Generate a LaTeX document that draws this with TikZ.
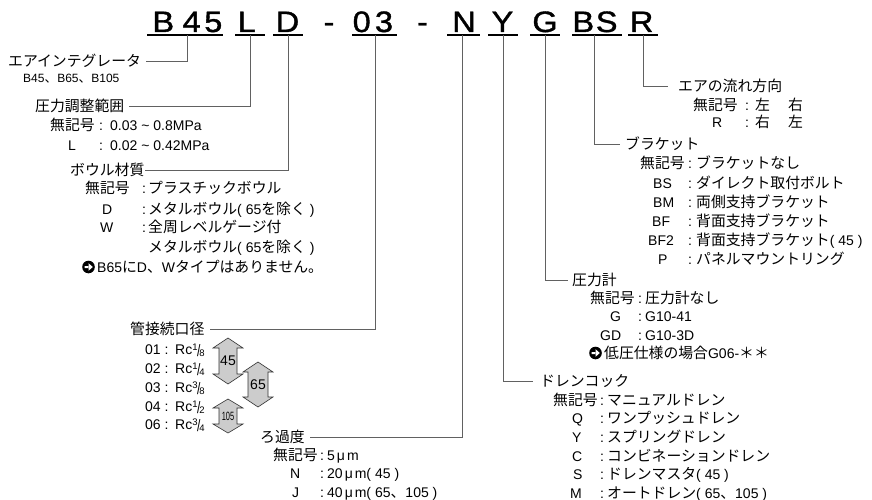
\documentclass[tikz,border=0pt]{standalone}
\usepackage{fontspec}
\setmainfont{Liberation Sans}
\newfontfamily\jpfont[Scale=1.06]{Noto Sans CJK JP}
\newfontfamily\codefont[FakeBold=1.2]{Liberation Sans}
\newcommand\jpt[1]{{\jpfont#1}}
\newcommand\rcf[2]{\raisebox{4pt}{\fontsize{9.5}{9.5}\selectfont#1}\kern-0.5pt\raisebox{-2pt}{\scalebox{0.8}[1.1]{\fontsize{15}{15}\selectfont/}}\kern-1pt\raisebox{-2.5pt}{\fontsize{9.5}{9.5}\selectfont#2}}
\begin{document}
\begin{tikzpicture}[x=1pt,y=-1pt,
  codech/.style={inner sep=0,anchor=base,font=\codefont\fontsize{29.5}{29.5}\selectfont,xscale=1.1},
  uline/.style={draw=black,line width=1.1pt},
  conn/.style={draw=black!62,line width=1pt},
  txt/.style={inner sep=0,anchor=west,text height=11pt,text depth=1pt,font=\fontsize{14}{16}\selectfont},
  sml/.style={inner sep=0,anchor=west,text height=9pt,text depth=1pt,font=\fontsize{12}{13}\selectfont},
  col/.style={inner sep=0,anchor=center,text height=11pt,text depth=1pt,font=\fontsize{14}{16}\selectfont},
  dbl/.style={draw=black!80,fill=black!20,line width=0.6pt},
  arrlbl/.style={inner sep=0,font=\fontsize{14}{16}\selectfont}]
\useasboundingbox (0,0) rectangle (872,500);
\fill[white] (0,0) rectangle (872,500);

% ---- model code ----
\node[codech] (cB1) at (163.3,32) {B};
\node[codech] (c4)  at (191.7,32) {4};
\node[codech] (c5)  at (213.3,32) {5};
\node[codech] (cL)  at (246.7,32) {L};
\node[codech] (cD)  at (287.5,32) {D};
\node[codech] (cm1) at (329,32) {-};
\node[codech] (c0)  at (361.7,32) {0};
\node[codech] (c3)  at (384,32) {3};
\node[codech] (cm2) at (422.5,32) {-};
\node[codech] (cN)  at (464,32) {N};
\node[codech] (cY)  at (502.5,32) {Y};
\node[codech] (cG)  at (545,32) {G};
\node[codech] (cB2) at (583.3,32) {B};
\node[codech] (cS)  at (606.7,32) {S};
\node[codech] (cR)  at (641.7,32) {R};

\coordinate (u1a) at (147,35); \coordinate (u1b) at (223,35);
\coordinate (u2a) at (235,35); \coordinate (u2b) at (265,35);
\coordinate (u3a) at (273,35); \coordinate (u3b) at (303,35);
\coordinate (u4a) at (352,35); \coordinate (u4b) at (397,35);
\coordinate (u5a) at (447,35); \coordinate (u5b) at (480,35);
\coordinate (u6a) at (488,35); \coordinate (u6b) at (518,35);
\coordinate (u7a) at (530,35); \coordinate (u7b) at (560,35);
\coordinate (u8a) at (572,35); \coordinate (u8b) at (622,35);
\coordinate (u9a) at (628,35); \coordinate (u9b) at (658,35);
\foreach \i in {1,...,9} \draw[uline] (u\i a) -- (u\i b);

\coordinate (tB45) at (187,35.5);
\coordinate (tL)   at (250,35.5);
\coordinate (tD)   at (288,35.5);
\coordinate (t03)  at (375,35.5);
\coordinate (tN)   at (462,35.5);
\coordinate (tY)   at (503,35.5);
\coordinate (tG)   at (545,35.5);
\coordinate (tBS)  at (594,35.5);
\coordinate (tR)   at (643,35.5);

% ---- air integrator ----
\node[txt] (lInteg) at (8,62) {\jpt{エアインテグレータ}};
\node[sml] (lIntegS) at (23,79) {B45\jpt{、}B65\jpt{、}B105};

% ---- pressure range ----
\node[txt] (lPress) at (35,107) {\jpt{圧力調整範囲}};
\node[txt] (p1c) at (50,126) {\jpt{無記号}};
\node[col] (p1k) at (101,126) {:};
\node[txt] (p1d) at (110,126) {0.03 \textasciitilde{} 0.8MPa};
\node[txt] (p2c) at (68,145) {L};
\node[col] (p2k) at (101,145) {:};
\node[txt] (p2d) at (110,145) {0.02 \textasciitilde{} 0.42MPa};

% ---- bowl ----
\node[txt] (lBowl) at (70,170) {\jpt{ボウル材質}};
\node[txt] (b1c) at (85,188) {\jpt{無記号}};
\node[col] (b1k) at (144,188) {:};
\node[txt] (b1d) at (148,188) {\jpt{プラスチックボウル}};
\node[txt] (b2c) at (102,209) {D};
\node[col] (b2k) at (144,209) {:};
\node[txt] (b2d) at (148,209) {\jpt{メタルボウル}( 65\jpt{を除く} )};
\node[txt] (b3c) at (100,227) {W};
\node[col] (b3k) at (144,227) {:};
\node[txt] (b3d) at (148,227) {\jpt{全周レベルゲージ付}};
\node[txt] (b4d) at (148,247) {\jpt{メタルボウル}( 65\jpt{を除く} )};
\fill (88.5,267) circle (6.3);
\fill[white] (84.5,266) rectangle (89,268) (88.5,263.2) -- (92.8,267) -- (88.5,270.8) -- cycle;
\node[txt] (b5)  at (97,267) {B65\jpt{に}D\jpt{、}W\jpt{タイプはありません。}};

% ---- port size ----
\node[txt] (lPort) at (130,329) {\jpt{管接続口径}};
\node[txt] (r1c) at (145,349) {01};
\node[col] (r1k) at (166.5,349) {:};
\node[txt] (r1d) at (175,349) {Rc\rcf{1}{8}};
\node[txt] (r2c) at (145,368) {02};
\node[col] (r2k) at (166.5,368) {:};
\node[txt] (r2d) at (175,368) {Rc\rcf{1}{4}};
\node[txt] (r3c) at (145,387) {03};
\node[col] (r3k) at (166.5,387) {:};
\node[txt] (r3d) at (175,387) {Rc\rcf{3}{8}};
\node[txt] (r4c) at (145,406) {04};
\node[col] (r4k) at (166.5,406) {:};
\node[txt] (r4d) at (175,406) {Rc\rcf{1}{2}};
\node[txt] (r5c) at (145,424) {06};
\node[col] (r5k) at (166.5,424) {:};
\node[txt] (r5d) at (175,424) {Rc\rcf{3}{4}};

% double arrows
\draw[dbl] (228,338) -- (243,348) -- (237,348) -- (237,374) -- (243,374) -- (228,384)
  -- (213,374) -- (219,374) -- (219,348) -- (213,348) -- cycle;
\node[arrlbl] (a45) at (228,361) {45};
\draw[dbl] (258,362) -- (273,372) -- (268,372) -- (268,397) -- (273,397) -- (258,407)
  -- (243,397) -- (248,397) -- (248,372) -- (243,372) -- cycle;
\node[arrlbl] (a65) at (258,385) {65};
\draw[dbl] (228,399) -- (243,408) -- (237,408) -- (237,424) -- (243,424) -- (228,433)
  -- (213,424) -- (219,424) -- (219,408) -- (213,408) -- cycle;
\node[arrlbl,font=\fontsize{12}{12}\selectfont,xscale=0.62] (a105) at (228,416) {105};

% ---- filtration ----
\node[txt] (lFilt) at (260,437) {\jpt{ろ過度}};
\node[txt] (f1c) at (273,455) {\jpt{無記号}};
\node[col] (f1k) at (322,455) {:};
\node[txt] (f1d) at (327,455) {5\kern2pt μ\kern2pt m};
\node[txt] (f2c) at (290,473) {N};
\node[col] (f2k) at (322,473) {:};
\node[txt] (f2d) at (327,473) {20\kern2pt μ\kern2pt m( 45 )};
\node[txt] (f3c) at (292,492) {J};
\node[col] (f3k) at (322,492) {:};
\node[txt] (f3d) at (327,492) {40\kern2pt μ\kern2pt m( 65\jpt{、}105 )};

% ---- air flow ----
\node[txt] (lFlow) at (678,87) {\jpt{エアの流れ方向}};
\node[txt] (w1c) at (693,106) {\jpt{無記号}};
\node[col] (w1k) at (747,106) {:};
\node[txt] (w1d) at (755,106) {\jpt{左}\hspace{18pt}\jpt{右}};
\node[txt] (w2c) at (712,123) {R};
\node[col] (w2k) at (747,123) {:};
\node[txt] (w2d) at (755,123) {\jpt{右}\hspace{18pt}\jpt{左}};

% ---- bracket ----
\node[txt] (lBrk) at (625,144) {\jpt{ブラケット}};
\node[txt] (k1c) at (640,163) {\jpt{無記号}};
\node[col] (k1k) at (690,163) {:};
\node[txt] (k1d) at (696,163) {\jpt{ブラケットなし}};
\node[txt] (k2c) at (653,183) {BS};
\node[col] (k2k) at (690,183) {:};
\node[txt] (k2d) at (696,183) {\jpt{ダイレクト取付ボルト}};
\node[txt] (k3c) at (653,202) {BM};
\node[col] (k3k) at (690,202) {:};
\node[txt] (k3d) at (696,202) {\jpt{両側支持ブラケット}};
\node[txt] (k4c) at (652,221) {BF};
\node[col] (k4k) at (690,221) {:};
\node[txt] (k4d) at (696,221) {\jpt{背面支持ブラケット}};
\node[txt] (k5c) at (648,240) {BF2};
\node[col] (k5k) at (690,240) {:};
\node[txt] (k5d) at (696,240) {\jpt{背面支持ブラケット}( 45 )};
\node[txt] (k6c) at (658,259) {P};
\node[col] (k6k) at (690,259) {:};
\node[txt] (k6d) at (696,259) {\jpt{パネルマウントリング}};

% ---- pressure gauge ----
\node[txt] (lGauge) at (572,280) {\jpt{圧力計}};
\node[txt] (g1c) at (590,298) {\jpt{無記号}};
\node[col] (g1k) at (640,298) {:};
\node[txt] (g1d) at (645,298) {\jpt{圧力計なし}};
\node[txt] (g2c) at (610,316) {G};
\node[col] (g2k) at (640,316) {:};
\node[txt] (g2d) at (645,316) {G10-41};
\node[txt] (g3c) at (600,335) {GD};
\node[col] (g3k) at (640,335) {:};
\node[txt] (g3d) at (645,335) {G10-3D};
\fill (595.5,353) circle (6.3);
\fill[white] (591.5,352) rectangle (596,354) (595.5,349.2) -- (599.8,353) -- (595.5,356.8) -- cycle;
\node[txt] (g4)  at (604,353) {\jpt{低圧仕様の場合}G06-\jpt{＊＊}};

% ---- drain cock ----
\node[txt] (lDrain) at (540,381) {\jpt{ドレンコック}};
\node[txt] (d1c) at (553,400) {\jpt{無記号}};
\node[col] (d1k) at (602,400) {:};
\node[txt] (d1d) at (607,400) {\jpt{マニュアルドレン}};
\node[txt] (d2c) at (572,418) {Q};
\node[col] (d2k) at (602,418) {:};
\node[txt] (d2d) at (607,418) {\jpt{ワンプッシュドレン}};
\node[txt] (d3c) at (572,437) {Y};
\node[col] (d3k) at (602,437) {:};
\node[txt] (d3d) at (607,437) {\jpt{スプリングドレン}};
\node[txt] (d4c) at (572,456) {C};
\node[col] (d4k) at (602,456) {:};
\node[txt] (d4d) at (607,456) {\jpt{コンビネーションドレン}};
\node[txt] (d5c) at (573,474) {S};
\node[col] (d5k) at (602,474) {:};
\node[txt] (d5d) at (607,474) {\jpt{ドレンマスタ}( 45 )};
\node[txt] (d6c) at (570,493) {M};
\node[col] (d6k) at (602,493) {:};
\node[txt] (d6d) at (607,493) {\jpt{オートドレン}( 65\jpt{、}105 )};

% ---- connectors ----
\draw[conn] (tB45) |- ([xshift=5pt]lInteg.east);
\draw[conn] (tL)   |- ([xshift=5pt]lPress.east);
\draw[conn] (tD)   |- (lBowl.east);
\draw[conn] (t03)  |- ([xshift=5pt]lPort.east);
\draw[conn] (tN)   |- ([xshift=5pt]lFilt.east);
\draw[conn] (tY)   |- ([xshift=-7pt]lDrain.west);
\draw[conn] (tG)   |- ([xshift=-4pt]lGauge.west);
\draw[conn] (tBS)  |- ([xshift=-5pt]lBrk.west);
\draw[conn] (tR)   |- ([xshift=-10pt]lFlow.west);
\end{tikzpicture}
\end{document}
